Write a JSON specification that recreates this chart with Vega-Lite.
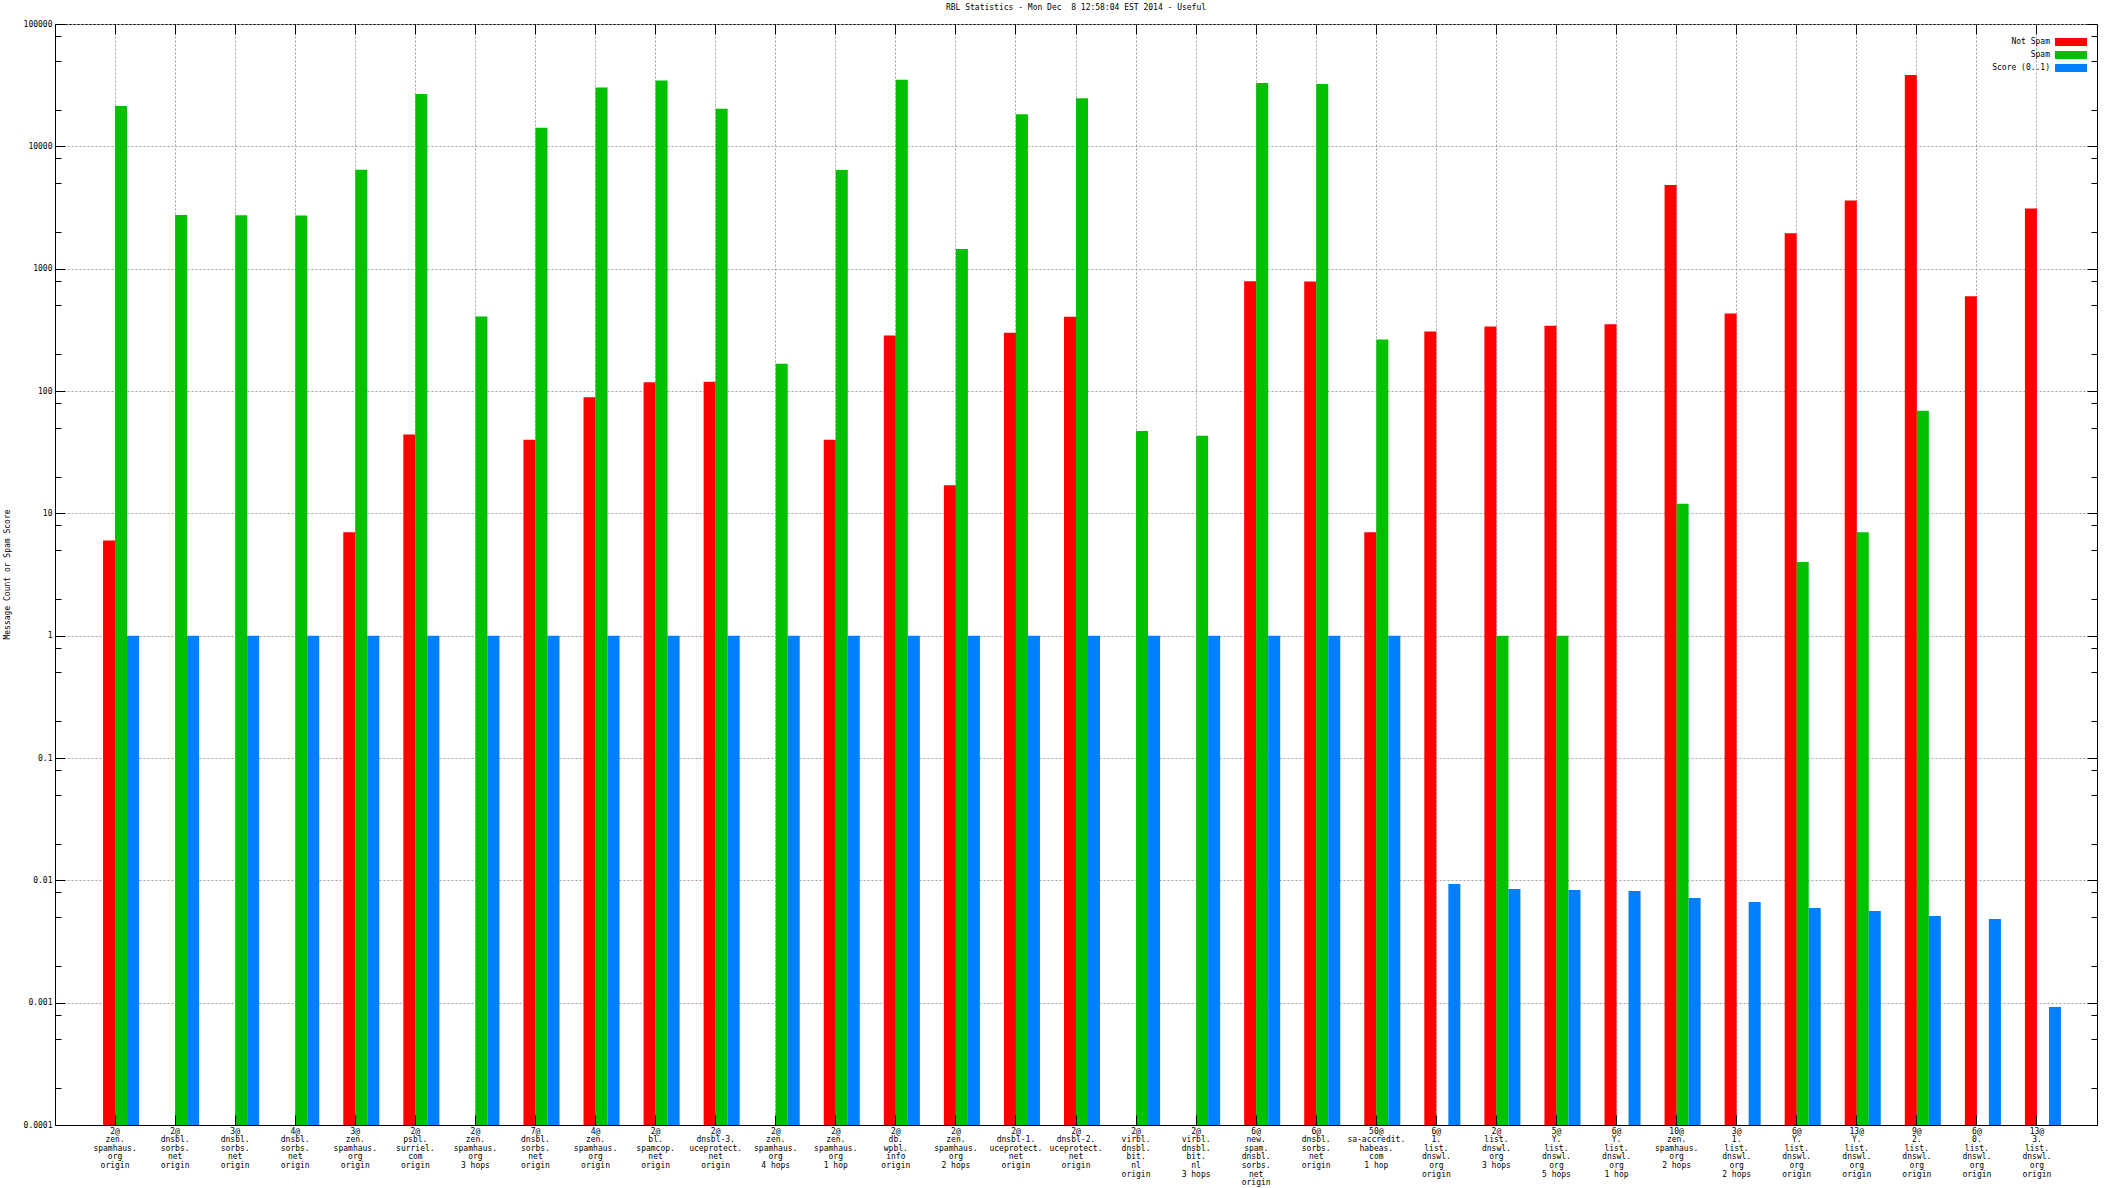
{
  "$schema": "https://vega.github.io/schema/vega-lite/v6.json",
  "width": 2042,
  "height": 1101,
  "autosize": {"type": "none"},
  "padding": {"left": 55, "top": 24, "right": 15, "bottom": 63},
  "background": "white",
  "title": {"text": "RBL Statistics - Mon Dec \u00a08 12:58:04 EST 2014 - Useful", "font": "DejaVu Sans Mono", "fontSize": 8, "fontWeight": "normal", "color": "black", "anchor": "middle", "offset": 8, "frame": "group"},
  "data": {"values": [
    {"label": "2@|zen.|spamhaus.|org|origin", "series": "Not Spam", "value": 6},
    {"label": "2@|zen.|spamhaus.|org|origin", "series": "Spam", "value": 21400},
    {"label": "2@|zen.|spamhaus.|org|origin", "series": "Score (0..1)", "value": 1},
    {"label": "2@|dnsbl.|sorbs.|net|origin", "series": "Spam", "value": 2740},
    {"label": "2@|dnsbl.|sorbs.|net|origin", "series": "Score (0..1)", "value": 1},
    {"label": "3@|dnsbl.|sorbs.|net|origin", "series": "Spam", "value": 2730},
    {"label": "3@|dnsbl.|sorbs.|net|origin", "series": "Score (0..1)", "value": 1},
    {"label": "4@|dnsbl.|sorbs.|net|origin", "series": "Spam", "value": 2720},
    {"label": "4@|dnsbl.|sorbs.|net|origin", "series": "Score (0..1)", "value": 1},
    {"label": "3@|zen.|spamhaus.|org|origin", "series": "Not Spam", "value": 7},
    {"label": "3@|zen.|spamhaus.|org|origin", "series": "Spam", "value": 6450},
    {"label": "3@|zen.|spamhaus.|org|origin", "series": "Score (0..1)", "value": 1},
    {"label": "2@|psbl.|surriel.|com|origin", "series": "Not Spam", "value": 44},
    {"label": "2@|psbl.|surriel.|com|origin", "series": "Spam", "value": 26800},
    {"label": "2@|psbl.|surriel.|com|origin", "series": "Score (0..1)", "value": 1},
    {"label": "2@|zen.|spamhaus.|org|3 hops", "series": "Spam", "value": 407},
    {"label": "2@|zen.|spamhaus.|org|3 hops", "series": "Score (0..1)", "value": 1},
    {"label": "7@|dnsbl.|sorbs.|net|origin", "series": "Not Spam", "value": 40},
    {"label": "7@|dnsbl.|sorbs.|net|origin", "series": "Spam", "value": 14200},
    {"label": "7@|dnsbl.|sorbs.|net|origin", "series": "Score (0..1)", "value": 1},
    {"label": "4@|zen.|spamhaus.|org|origin", "series": "Not Spam", "value": 89},
    {"label": "4@|zen.|spamhaus.|org|origin", "series": "Spam", "value": 30300},
    {"label": "4@|zen.|spamhaus.|org|origin", "series": "Score (0..1)", "value": 1},
    {"label": "2@|bl.|spamcop.|net|origin", "series": "Not Spam", "value": 118},
    {"label": "2@|bl.|spamcop.|net|origin", "series": "Spam", "value": 34500},
    {"label": "2@|bl.|spamcop.|net|origin", "series": "Score (0..1)", "value": 1},
    {"label": "2@|dnsbl-3.|uceprotect.|net|origin", "series": "Not Spam", "value": 119},
    {"label": "2@|dnsbl-3.|uceprotect.|net|origin", "series": "Spam", "value": 20300},
    {"label": "2@|dnsbl-3.|uceprotect.|net|origin", "series": "Score (0..1)", "value": 1},
    {"label": "2@|zen.|spamhaus.|org|4 hops", "series": "Spam", "value": 167},
    {"label": "2@|zen.|spamhaus.|org|4 hops", "series": "Score (0..1)", "value": 1},
    {"label": "2@|zen.|spamhaus.|org|1 hop", "series": "Not Spam", "value": 40},
    {"label": "2@|zen.|spamhaus.|org|1 hop", "series": "Spam", "value": 6400},
    {"label": "2@|zen.|spamhaus.|org|1 hop", "series": "Score (0..1)", "value": 1},
    {"label": "2@|db.|wpbl.|info|origin", "series": "Not Spam", "value": 284},
    {"label": "2@|db.|wpbl.|info|origin", "series": "Spam", "value": 35000},
    {"label": "2@|db.|wpbl.|info|origin", "series": "Score (0..1)", "value": 1},
    {"label": "2@|zen.|spamhaus.|org|2 hops", "series": "Not Spam", "value": 17},
    {"label": "2@|zen.|spamhaus.|org|2 hops", "series": "Spam", "value": 1450},
    {"label": "2@|zen.|spamhaus.|org|2 hops", "series": "Score (0..1)", "value": 1},
    {"label": "2@|dnsbl-1.|uceprotect.|net|origin", "series": "Not Spam", "value": 300},
    {"label": "2@|dnsbl-1.|uceprotect.|net|origin", "series": "Spam", "value": 18300},
    {"label": "2@|dnsbl-1.|uceprotect.|net|origin", "series": "Score (0..1)", "value": 1},
    {"label": "2@|dnsbl-2.|uceprotect.|net|origin", "series": "Not Spam", "value": 405},
    {"label": "2@|dnsbl-2.|uceprotect.|net|origin", "series": "Spam", "value": 24700},
    {"label": "2@|dnsbl-2.|uceprotect.|net|origin", "series": "Score (0..1)", "value": 1},
    {"label": "2@|virbl.|dnsbl.|bit.|nl|origin", "series": "Spam", "value": 47},
    {"label": "2@|virbl.|dnsbl.|bit.|nl|origin", "series": "Score (0..1)", "value": 1},
    {"label": "2@|virbl.|dnsbl.|bit.|nl|3 hops", "series": "Spam", "value": 43},
    {"label": "2@|virbl.|dnsbl.|bit.|nl|3 hops", "series": "Score (0..1)", "value": 1},
    {"label": "6@|new.|spam.|dnsbl.|sorbs.|net|origin", "series": "Not Spam", "value": 790},
    {"label": "6@|new.|spam.|dnsbl.|sorbs.|net|origin", "series": "Spam", "value": 33000},
    {"label": "6@|new.|spam.|dnsbl.|sorbs.|net|origin", "series": "Score (0..1)", "value": 1},
    {"label": "6@|dnsbl.|sorbs.|net|origin", "series": "Not Spam", "value": 785},
    {"label": "6@|dnsbl.|sorbs.|net|origin", "series": "Spam", "value": 32300},
    {"label": "6@|dnsbl.|sorbs.|net|origin", "series": "Score (0..1)", "value": 1},
    {"label": "50@|sa-accredit.|habeas.|com|1 hop", "series": "Not Spam", "value": 7},
    {"label": "50@|sa-accredit.|habeas.|com|1 hop", "series": "Spam", "value": 264},
    {"label": "50@|sa-accredit.|habeas.|com|1 hop", "series": "Score (0..1)", "value": 1},
    {"label": "6@|1.|list.|dnswl.|org|origin", "series": "Not Spam", "value": 307},
    {"label": "6@|1.|list.|dnswl.|org|origin", "series": "Score (0..1)", "value": 0.00933},
    {"label": "2@|list.|dnswl.|org|3 hops", "series": "Not Spam", "value": 337},
    {"label": "2@|list.|dnswl.|org|3 hops", "series": "Spam", "value": 1},
    {"label": "2@|list.|dnswl.|org|3 hops", "series": "Score (0..1)", "value": 0.00849},
    {"label": "5@|Y.|list.|dnswl.|org|5 hops", "series": "Not Spam", "value": 342},
    {"label": "5@|Y.|list.|dnswl.|org|5 hops", "series": "Spam", "value": 1},
    {"label": "5@|Y.|list.|dnswl.|org|5 hops", "series": "Score (0..1)", "value": 0.00833},
    {"label": "6@|Y.|list.|dnswl.|org|1 hop", "series": "Not Spam", "value": 351},
    {"label": "6@|Y.|list.|dnswl.|org|1 hop", "series": "Score (0..1)", "value": 0.00818},
    {"label": "10@|zen.|spamhaus.|org|2 hops", "series": "Not Spam", "value": 4830},
    {"label": "10@|zen.|spamhaus.|org|2 hops", "series": "Spam", "value": 12},
    {"label": "10@|zen.|spamhaus.|org|2 hops", "series": "Score (0..1)", "value": 0.00717},
    {"label": "3@|1.|list.|dnswl.|org|2 hops", "series": "Not Spam", "value": 431},
    {"label": "3@|1.|list.|dnswl.|org|2 hops", "series": "Score (0..1)", "value": 0.00665},
    {"label": "6@|Y.|list.|dnswl.|org|origin", "series": "Not Spam", "value": 1945},
    {"label": "6@|Y.|list.|dnswl.|org|origin", "series": "Spam", "value": 4},
    {"label": "6@|Y.|list.|dnswl.|org|origin", "series": "Score (0..1)", "value": 0.00594},
    {"label": "13@|Y.|list.|dnswl.|org|origin", "series": "Not Spam", "value": 3610},
    {"label": "13@|Y.|list.|dnswl.|org|origin", "series": "Spam", "value": 7},
    {"label": "13@|Y.|list.|dnswl.|org|origin", "series": "Score (0..1)", "value": 0.00561},
    {"label": "9@|2.|list.|dnswl.|org|origin", "series": "Not Spam", "value": 38300},
    {"label": "9@|2.|list.|dnswl.|org|origin", "series": "Spam", "value": 69},
    {"label": "9@|2.|list.|dnswl.|org|origin", "series": "Score (0..1)", "value": 0.00511},
    {"label": "6@|0.|list.|dnswl.|org|origin", "series": "Not Spam", "value": 594},
    {"label": "6@|0.|list.|dnswl.|org|origin", "series": "Score (0..1)", "value": 0.00483},
    {"label": "13@|3.|list.|dnswl.|org|origin", "series": "Not Spam", "value": 3110},
    {"label": "13@|3.|list.|dnswl.|org|origin", "series": "Score (0..1)", "value": 0.00092}
  ]},
  "layer": [
    {
      "mark": {"type": "bar"},
      "encoding": {
        "x": {"field": "label", "type": "nominal", "sort": null,
          "scale": {"paddingInner": 0, "paddingOuter": 0.5},
          "axis": {"orient": "bottom", "title": null, "ticks": false, "domain": false, "grid": true, "bandPosition": 0.5,
            "labelExpr": "split(datum.label, '|')", "labelAngle": 0, "labelAlign": "center", "labelBaseline": "top",
            "labelPadding": 2, "labelLineHeight": 8.6, "labelOverlap": false, "labelFlush": false, "labelLimit": 0}},
        "xOffset": {"field": "series", "type": "nominal", "sort": ["Not Spam", "Spam", "Score (0..1)"],
          "scale": {"paddingInner": 0, "paddingOuter": 1, "align": 0.75}},
        "y": {"field": "value", "type": "quantitative",
          "scale": {"type": "log", "domain": [0.0001, 100000], "nice": false},
          "axis": {"orient": "left", "title": "Message Count or Spam Score",
            "values": [0.0001, 0.001, 0.01, 0.1, 1, 10, 100, 1000, 10000, 100000],
            "format": "~f", "ticks": false, "domain": false, "grid": true, "labelPadding": 3,
            "titleX": -48, "titleY": 550, "titleAngle": -90, "titleAlign": "center", "titleBaseline": "middle"}},
        "y2": {"datum": 0.0001},
        "color": {"field": "series", "type": "nominal",
          "scale": {"domain": ["Not Spam", "Spam", "Score (0..1)"], "range": ["#ff0000", "#00c000", "#0080ff"]},
          "legend": {"orient": "none", "legendX": 2012, "legendY": 14, "title": null,
            "symbolType": "M-4,-1H4V1H-4Z", "symbolSize": 64, "symbolStrokeWidth": 0,
            "labelAlign": "right", "labelOffset": -25, "labelFontSize": 8, "labelFont": "DejaVu Sans Mono",
            "labelColor": "black", "rowPadding": 5, "padding": 0}}
      }
    },
    {
      "mark": {"type": "point", "opacity": 0},
      "encoding": {
        "x": {"field": "label", "type": "nominal", "sort": null,
          "axis": {"orient": "top", "title": null, "labels": false, "domain": false, "grid": false, "ticks": true, "tickSize": -10, "bandPosition": 0.5, "zindex": 1}},
        "y": {"field": "value", "type": "quantitative",
          "axis": {"orient": "right", "title": null, "labels": false, "domain": false, "grid": false, "ticks": true, "tickSize": -10, "zindex": 1,
            "values": [0.0001, 0.001, 0.01, 0.1, 1, 10, 100, 1000, 10000, 100000]}}
      }
    },
    {
      "mark": {"type": "point", "opacity": 0},
      "encoding": {
        "x": {"field": "label", "type": "nominal", "sort": null,
          "axis": {"orient": "bottom", "title": null, "labels": false, "domain": true, "grid": false, "ticks": true, "tickSize": -10, "bandPosition": 0.5, "zindex": 1}},
        "y": {"field": "value", "type": "quantitative",
          "axis": {"orient": "left", "title": null, "labels": false, "domain": true, "grid": false, "ticks": true, "tickSize": -10, "zindex": 1,
            "values": [0.0001, 0.001, 0.01, 0.1, 1, 10, 100, 1000, 10000, 100000]}}
      }
    },
    {
      "mark": {"type": "point", "opacity": 0},
      "encoding": {
        "x": {"field": "label", "type": "nominal", "sort": null, "axis": null},
        "y": {"field": "value", "type": "quantitative",
          "axis": {"orient": "left", "title": null, "labels": false, "domain": false, "grid": false, "ticks": true, "tickSize": -6, "zindex": 1,
            "values": [0.0002, 0.0005, 0.0008, 0.002, 0.005, 0.008, 0.02, 0.05, 0.08, 0.2, 0.5, 0.8, 2, 5, 8, 20, 50, 80, 200, 500, 800, 2000, 5000, 8000, 20000, 50000, 80000]}}
      }
    },
    {
      "mark": {"type": "point", "opacity": 0},
      "encoding": {
        "x": {"field": "label", "type": "nominal", "sort": null, "axis": null},
        "y": {"field": "value", "type": "quantitative",
          "axis": {"orient": "right", "title": null, "labels": false, "domain": false, "grid": false, "ticks": true, "tickSize": -6, "zindex": 1,
            "values": [0.0002, 0.0005, 0.0008, 0.002, 0.005, 0.008, 0.02, 0.05, 0.08, 0.2, 0.5, 0.8, 2, 5, 8, 20, 50, 80, 200, 500, 800, 2000, 5000, 8000, 20000, 50000, 80000]}}
      }
    }
  ],
  "resolve": {"axis": {"x": "independent", "y": "independent"}},
  "config": {
    "font": "DejaVu Sans Mono",
    "view": {"stroke": "black", "strokeWidth": 1},
    "axis": {"labelFont": "DejaVu Sans Mono", "labelFontSize": 8, "labelColor": "black",
      "titleFont": "DejaVu Sans Mono", "titleFontSize": 8, "titleFontWeight": "normal", "titleColor": "black",
      "tickColor": "black", "tickWidth": 1, "domainColor": "black", "domainWidth": 1,
      "gridColor": "#a0a0a0", "gridDash": [2, 2], "gridWidth": 1}
  }
}
